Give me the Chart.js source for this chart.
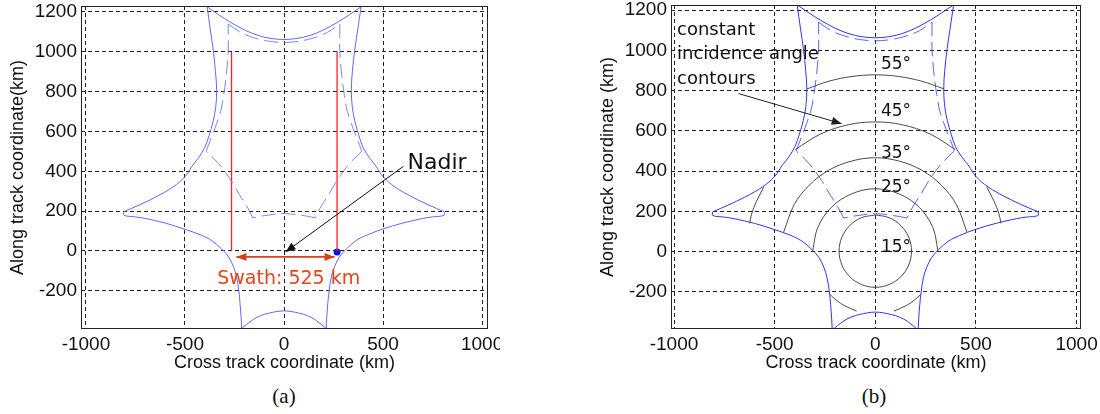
<!DOCTYPE html>
<html>
<head>
<meta charset="utf-8">
<script src="https://cdn.jsdelivr.net/npm/chart.js@4.4.0/dist/chart.umd.min.js"></script>
<style>
  body { margin: 0; background: #fff; width: 1100px; height: 414px; position: relative; overflow: hidden; }
  .panel { position: absolute; top: 0; height: 378px; }
  .cap { position: absolute; top: 386px; font: 21px 'Liberation Serif', 'DejaVu Serif', serif; line-height: 1; transform: translateX(-50%); color: #111; }
</style>
</head>
<body>
<div class="panel" style="left:0;width:500px"><canvas id="chartA" width="500" height="378"></canvas></div>
<div class="panel" style="left:590px;width:510px"><canvas id="chartB" width="510" height="378"></canvas></div>
<div class="cap" style="left:284px">(a)</div>
<div class="cap" style="left:874px">(b)</div>
<script>
// axis ticks
const X_TICKS = [-1000, -500, 0, 500, 1000];
const Y_TICKS = [-200, 0, 200, 400, 600, 800, 1000, 1200];

// outer footprint boundary (solid blue), one array per arc between cusps
const outerTop = [[-388,1226],[-330,1186],[-273,1150],[-200,1110],[-130,1082],[-65,1067],[0,1062],[65,1067],[130,1082],[200,1110],[273,1150],[330,1186],[389,1226]];
const outerRight = [[389,1226],[372,1110],[357,1008],[345,900],[340,807],[345,720],[358,650],[378,580],[398,522],[430,470],[465,425],[498,375],[560,321],[649,270],[730,231],[809,197]];
const outerLowerRight = [[809,197],[809,179],[750,171],[700,163],[600,140],[498,110],[420,80],[364,52],[315,10],[280,-30],[255,-80],[239,-130],[228,-200],[221,-264],[216,-330],[213,-390]];
const outerBottom = [[213,-390],[160,-347],[120,-326],[79,-313],[0,-301],[-79,-313],[-120,-326],[-160,-347],[-214,-390]];
const outerLowerLeft = [[-214,-390],[-217,-330],[-222,-264],[-228,-200],[-240,-130],[-255,-80],[-280,-30],[-315,10],[-365,52],[-420,80],[-498,108],[-600,140],[-700,163],[-750,171],[-808,179],[-808,197]];
const outerLeft = [[-808,197],[-730,231],[-649,270],[-560,321],[-498,375],[-465,425],[-430,470],[-399,522],[-378,580],[-358,650],[-345,720],[-340,807],[-346,900],[-357,1008],[-372,1110],[-388,1226]];

// inner boundary (dashed blue)
const innerTop = [[-282,1140],[-220,1098],[-150,1070],[-75,1053],[0,1047],[75,1053],[150,1070],[220,1098],[282,1140]];
const innerRight = [[282,1140],[282,1000],[292,880],[305,780],[320,700],[340,640],[362,580],[380,535],[393,500]];
const innerRightDiag = [[393,500],[330,438],[266,352],[225,282],[188,225],[157,166]];
const innerBottom = [[157,166],[120,174],[79,180],[0,188],[-79,180],[-120,174],[-157,166]];
const innerLeftDiag = [[-157,166],[-188,225],[-225,282],[-266,352],[-330,438],[-393,500]];
const innerLeft = [[-393,500],[-380,535],[-362,580],[-340,640],[-320,700],[-305,780],[-292,880],[-282,1000],[-282,1140]];

// panel (a): swath edges, nadir point
const swathEdgeX = [-265, 268];
const swathEdgeY = [0, 1000];
const nadirDot = [[268, -5]];

// panel (b): constant incidence angle contours
const contour15 = [[0,182],[69,168],[127,129],[166,71],[180,2],[166,-67],[127,-125],[69,-164],[0,-178],[-69,-164],[-127,-125],[-166,-67],[-180,2],[-166,71],[-127,129],[-69,168],[0,182]];
const contour25Upper = [[-311,5],[-286,119],[-219,219],[-119,286],[0,312],[119,286],[219,219],[286,119],[311,5]];
const contour25LowerLeft = [[-226,-213],[-192,-243],[-155,-268],[-93,-296]];
const contour25LowerRight = [[93,-296],[155,-268],[192,-243],[226,-213]];
const contour35 = [[-455,97],[-403,233],[-329,329],[-233,403],[-120,449],[0,466],[120,449],[233,403],[329,329],[403,233],[455,97]];
const contour45 = [[-397,507],[-272,584],[-134,630],[0,644],[134,630],[272,584],[397,507]];
const contour45WingLeft = [[-554,320],[-590,250],[-615,185],[-624,140]];
const contour45WingRight = [[554,320],[590,250],[615,185],[624,140]];
const contour55 = [[-340,808],[-228,847],[-115,870],[0,878],[115,870],[228,847],[342,808]];

const angleLabels = ['55°', '45°', '35°', '25°', '15°'];
const angleLabelY = [931, 693, 489, 319, 20];
const angleLabelX = 103;

const TICK_FONT = "'Liberation Sans', Arial, sans-serif";
const NOTE_FONT = "'DejaVu Sans', sans-serif";

const toPts = arr => arr.map(([x, y]) => ({ x, y }));

function lineSet(points, color, dash, width) {
    return {
        data: toPts(points), showLine: true, borderColor: color, borderWidth: width || 1,
        borderDash: dash || [], pointRadius: 0, tension: 0.35, fill: false
    };
}

function footprint(solid, dashed) {
    const d = [14, 6];
    return [
        ...[outerTop, outerRight, outerLowerRight, outerBottom, outerLowerLeft, outerLeft].map(p => lineSet(p, solid)),
        ...[innerTop, innerRight, innerRightDiag, innerBottom, innerLeftDiag, innerLeft].map(p => lineSet(p, dashed, d))
    ];
}

function head(ctx, x1, y1, x2, y2) {
    const a = Math.atan2(y2 - y1, x2 - x1), L = 10, W = 4;
    ctx.beginPath();
    ctx.moveTo(x2, y2);
    ctx.lineTo(x2 - L * Math.cos(a) + W * Math.sin(a), y2 - L * Math.sin(a) - W * Math.cos(a));
    ctx.lineTo(x2 - L * Math.cos(a) - W * Math.sin(a), y2 - L * Math.sin(a) + W * Math.cos(a));
    ctx.closePath();
    ctx.fill();
}

function arrow(chart, from, to, color, width, both) {
    const { ctx, scales: { x, y } } = chart;
    const x1 = x.getPixelForValue(from[0]), y1 = y.getPixelForValue(from[1]);
    const x2 = x.getPixelForValue(to[0]), y2 = y.getPixelForValue(to[1]);
    ctx.save();
    ctx.strokeStyle = color; ctx.fillStyle = color; ctx.lineWidth = width;
    ctx.beginPath(); ctx.moveTo(x1, y1); ctx.lineTo(x2, y2); ctx.stroke();
    head(ctx, x1, y1, x2, y2);
    if (both) head(ctx, x2, y2, x1, y1);
    ctx.restore();
}

function label(chart, text, at, size, color, align) {
    const { ctx, scales: { x, y } } = chart;
    ctx.save();
    ctx.font = size + 'px ' + NOTE_FONT;
    ctx.fillStyle = color;
    ctx.textAlign = align || 'center';
    ctx.textBaseline = 'middle';
    ctx.fillText(text, x.getPixelForValue(at[0]), y.getPixelForValue(at[1]));
    ctx.restore();
}

function makeOptions(xMin, xMax, yMin, yMax, yTitle, padRight, padTop) {
    const tickFont = { family: TICK_FONT, size: 19 };
    const titleFont = { family: TICK_FONT, size: 18 };
    return {
        responsive: false, animation: false, devicePixelRatio: 1,
        layout: { padding: { left: 0, top: padTop, right: padRight, bottom: 0 } },
        plugins: { legend: { display: false }, tooltip: { enabled: false } },
        scales: {
            x: {
                type: 'linear', min: xMin, max: xMax,
                afterBuildTicks: s => { s.ticks = X_TICKS.map(v => ({ value: v })); },
                afterFit: s => { s.height = 49; s.paddingLeft = 0; s.paddingRight = 0; },
                grid: { color: '#222', lineWidth: 1, drawTicks: false },
                border: { display: false, dash: [4, 3] },
                ticks: { font: tickFont, color: '#111', padding: 4, maxRotation: 0, autoSkip: false, callback: v => String(v) },
                title: { display: true, text: 'Cross track coordinate (km)', font: titleFont, color: '#111', padding: { top: 0, bottom: 4 } }
            },
            y: {
                type: 'linear', min: yMin, max: yMax,
                afterBuildTicks: s => { s.ticks = Y_TICKS.map(v => ({ value: v })); },
                afterFit: s => { s.width = 81; s.paddingTop = 0; s.paddingBottom = 0; },
                grid: { color: '#222', lineWidth: 1, drawTicks: false },
                border: { display: false, dash: [4, 3] },
                ticks: { font: tickFont, color: '#111', padding: 4, autoSkip: false, callback: v => String(v) },
                title: { display: true, text: yTitle, font: titleFont, color: '#111', padding: { top: 7, bottom: 0 } }
            }
        }
    };
}

const boxPlugin = {
    id: 'box',
    afterDraw(chart) {
        const { ctx, chartArea: a } = chart;
        ctx.save();
        ctx.strokeStyle = '#222'; ctx.lineWidth = 1;
        ctx.strokeRect(Math.round(a.left) + 0.5, Math.round(a.top) + 0.5, Math.round(a.right - a.left) - 1, Math.round(a.bottom - a.top) - 1);
        ctx.restore();
    }
};

// Panel (a)
const swathColor = '#ff2020';
const notesA = {
    id: 'notesA',
    afterDatasetsDraw(chart) {
        arrow(chart, [-240, -30], [255, -30], '#d9401a', 1.6, true);
        arrow(chart, [603, 425], [8, -5], '#111', 1, false);
        label(chart, 'Nadir', [773, 440], 22, '#111');
        label(chart, 'Swath: 525 km', [24, -142], 19, '#e0451c');
    }
};

new Chart(document.getElementById('chartA'), {
    type: 'scatter',
    data: {
        datasets: [
            ...footprint('rgb(95,105,245)', 'rgba(100,115,240,0.85)'),
            ...swathEdgeX.map(x => lineSet(swathEdgeY.map(y => [x, y]), swathColor, [], 1.3)),
            { data: toPts(nadirDot), pointRadius: 3.5, pointBackgroundColor: '#0010ff', pointBorderWidth: 0, showLine: false }
        ]
    },
    options: makeOptions(-1025, 1030, -392, 1230, 'Along track coordinate(km)', 12, 6),
    plugins: [boxPlugin, notesA]
});

// Panel (b)
const contourColor = '#4a4a4a';
const notesB = {
    id: 'notesB',
    afterDatasetsDraw(chart) {
        angleLabels.forEach((t, i) => label(chart, t, [angleLabelX, angleLabelY[i]], 17, '#111'));
        label(chart, 'constant', [-985, 1100], 18, '#111', 'left');
        label(chart, 'incidence angle', [-985, 978], 18, '#111', 'left');
        label(chart, 'contours', [-985, 858], 18, '#111', 'left');
        arrow(chart, [-680, 785], [-167, 635], '#222', 1, false);
    }
};

new Chart(document.getElementById('chartB'), {
    type: 'scatter',
    data: {
        datasets: [
            ...[contour15, contour25Upper, contour25LowerLeft, contour25LowerRight, contour35,
                contour45, contour45WingLeft, contour45WingRight, contour55].map(p => lineSet(p, contourColor)),
            ...footprint('rgb(45,55,240)', 'rgba(60,75,240,0.85)')
        ]
    },
    options: makeOptions(-1015, 1022, -385, 1225, 'Along track coordinate (km)', 19, 5),
    plugins: [boxPlugin, notesB]
});
</script>
</body>
</html>
